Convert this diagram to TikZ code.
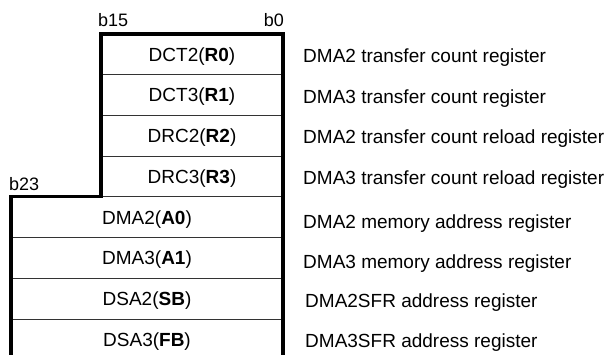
\documentclass[tikz,border=0pt]{standalone}
\usepackage{fontspec}
\setmainfont{Liberation Sans}
\begin{document}
\begin{tikzpicture}[x=1pt,y=-1pt,
  reg/.style={draw=black!80,line width=0.8pt,minimum height=40.7pt,inner sep=0pt,outer sep=0pt,
    text height=13.7pt,text depth=0pt,font=\fontsize{19}{22}\selectfont,anchor=north west},
  upper/.style={reg,minimum width=182pt},
  lower/.style={reg,minimum width=272pt},
  desc/.style={anchor=west,inner sep=0pt,text height=13.7pt,text depth=0pt,
    font=\fontsize{19}{22}\selectfont},
  bit/.style={inner sep=0pt,font=\fontsize{18}{20}\selectfont},
  outline/.style={line width=3.2pt,line join=miter}]
\useasboundingbox (0,0) rectangle (609,355);
% registers
\node[upper] (r1) at (101,34) {DCT2(\textbf{R0})};
\node[upper] (r2) at (r1.south west) {DCT3(\textbf{R1})};
\node[upper] (r3) at (r2.south west) {DRC2(\textbf{R2})};
\node[upper] (r4) at (r3.south west) {DRC3(\textbf{R3})};
\node[lower] (r5) at (11,196.8) {DMA2(\textbf{A0})};
\node[lower] (r6) at (r5.south west) {DMA3(\textbf{A1})};
\node[lower] (r7) at (r6.south west) {DSA2(\textbf{SB})};
\node[lower] (r8) at (r7.south west) {DSA3(\textbf{FB})};
% outline
\draw[outline] (r8.south west) -- (r5.north west) -- (r5.north west -| r4.south west) -- (r1.north west)
  -- (r1.north east) -- (r8.south east);
% bit labels
\node[bit,anchor=base west] (b15) at (98,27) {b15};
\node[bit,anchor=base east] (b0) at (284,27) {b0};
\node[bit,anchor=base west] (b23) at (9,190) {b23};
% descriptions
\node[desc] (d1) at (303,55.3) {DMA2 transfer count register};
\node[desc] (d2) at (303,96.2) {DMA3 transfer count register};
\node[desc] (d3) at (303,136.3) {DMA2 transfer count reload register};
\node[desc] (d4) at (303,177.2) {DMA3 transfer count reload register};
\node[desc] (d5) at (303,222) {DMA2 memory address register};
\node[desc] (d6) at (303,262) {DMA3 memory address register};
\node[desc] (d7) at (305,300.5) {DMA2SFR address register};
\node[desc] (d8) at (305,340.5) {DMA3SFR address register};
\end{tikzpicture}
\end{document}
